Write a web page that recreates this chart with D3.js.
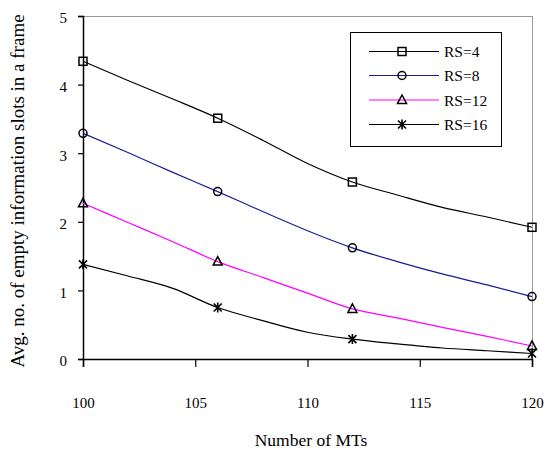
<!DOCTYPE html>
<html>
<head>
<meta charset="utf-8">
<script src="https://cdn.jsdelivr.net/npm/d3@7/dist/d3.min.js"></script>
<style>
  html, body { margin: 0; padding: 0; background: #fff; }
  svg { display: block; font-family: "Liberation Serif", "Times New Roman", serif; }
</style>
</head>
<body>
<svg id="chart" width="546" height="450"></svg>
<script>
// ---- data ----
const xValues = [100, 102, 104, 106, 108, 110, 112, 114, 116, 118, 120];
const markerX = [100, 106, 112, 120];
const rs4  = [4.34, 4.06, 3.79, 3.51, 3.19, 2.85, 2.58, 2.39, 2.21, 2.07, 1.92];
const rs8  = [3.29, 3.01, 2.72, 2.44, 2.15, 1.87, 1.62, 1.42, 1.24, 1.08, 0.91];
const rs12 = [2.27, 1.99, 1.71, 1.42, 1.19, 0.96, 0.73, 0.60, 0.46, 0.33, 0.19];
const rs16 = [1.38, 1.21, 1.03, 0.75, 0.56, 0.39, 0.29, 0.22, 0.16, 0.12, 0.08];
const seriesNames = ["RS=4", "RS=8", "RS=12", "RS=16"];
const xTicks = [100, 105, 110, 115, 120];
const yTicks = [0, 1, 2, 3, 4, 5];
const xTitle = "Number of MTs";
const yTitle = "Avg. no. of empty information slots in a frame";

const seriesValues = [rs4, rs8, rs12, rs16];
const colors = ["#000000", "#1c1c96", "#ff00ff", "#000000"];
const markers = ["square", "circle", "triangle", "asterisk"];

// ---- layout ----
const svg = d3.select("#chart");
const mLeft = 83, mRight = 532, mTop = 16, mBottom = 359;
const serif = "Liberation Serif, Times New Roman, serif";

const x = d3.scaleLinear().domain([100, 120]).range([mLeft, mRight]);
const y = d3.scaleLinear().domain([0, 5]).range([mBottom, mTop]);

// frame: top and right grey
svg.append("line").attr("x1", mLeft).attr("x2", mRight).attr("y1", mTop + 0.5).attr("y2", mTop + 0.5)
  .attr("stroke", "#9a9a9a").attr("stroke-width", 1);
svg.append("line").attr("x1", mRight + 0.5).attr("x2", mRight + 0.5).attr("y1", mTop).attr("y2", mBottom)
  .attr("stroke", "#9a9a9a").attr("stroke-width", 1);

// y axis
const yAxis = svg.append("g").attr("transform", `translate(${mLeft},0)`)
  .call(d3.axisLeft(y).tickValues(yTicks).tickSize(5).tickPadding(11).tickFormat(d3.format("d")));
yAxis.select(".domain").attr("stroke", "#000").attr("stroke-width", 1.5);
yAxis.selectAll(".tick line").attr("stroke", "#000").attr("stroke-width", 1.2);
yAxis.selectAll("text").attr("font-size", 15).attr("fill", "#000").attr("y", 2)
  .attr("font-family", serif);

// x axis
const xAxis = svg.append("g").attr("transform", `translate(0,${mBottom})`)
  .call(d3.axisBottom(x).tickValues(xTicks).tickSize(8).tickPadding(30).tickFormat(d3.format("d")));
xAxis.select(".domain").attr("stroke", "#000").attr("stroke-width", 1.5);
xAxis.selectAll(".tick line").attr("stroke", "#000").attr("stroke-width", 1.2);
xAxis.selectAll("text").attr("font-size", 15).attr("fill", "#000")
  .attr("font-family", serif);

// titles
svg.append("text").attr("x", 311).attr("y", 446).attr("text-anchor", "middle")
  .attr("font-size", 17.5).attr("font-family", serif).text(xTitle);
svg.append("text").attr("transform", `translate(24,191) rotate(-90)`).attr("text-anchor", "middle")
  .attr("font-size", 19).attr("font-family", serif).text(yTitle);

// marker drawer
function drawMarker(g, type, cx, cy) {
  const s = 4;
  if (type === "square") {
    g.append("rect").attr("x", cx - s).attr("y", cy - s).attr("width", 2 * s).attr("height", 2 * s)
      .attr("fill", "none").attr("stroke", "#000").attr("stroke-width", 1.5);
  } else if (type === "circle") {
    g.append("circle").attr("cx", cx).attr("cy", cy).attr("r", 4)
      .attr("fill", "none").attr("stroke", "#000").attr("stroke-width", 1.5);
  } else if (type === "triangle") {
    g.append("path").attr("d", `M${cx},${cy - 5}L${cx + 4.5},${cy + 3.5}L${cx - 4.5},${cy + 3.5}Z`)
      .attr("fill", "none").attr("stroke", "#000").attr("stroke-width", 1.5);
  } else if (type === "asterisk") {
    g.append("path").attr("d",
      `M${cx - 4},${cy - 4}L${cx + 4},${cy + 4}M${cx + 4},${cy - 4}L${cx - 4},${cy + 4}M${cx},${cy - 5}L${cx},${cy + 5}`)
      .attr("fill", "none").attr("stroke", "#000").attr("stroke-width", 1.6);
  }
}

// lines
const line = d3.line().x(d => x(d[0])).y(d => y(d[1])).curve(d3.curveMonotoneX);
seriesValues.forEach((vals, i) => {
  const pts = xValues.map((xv, j) => [xv, vals[j]]);
  svg.append("path").attr("d", line(pts)).attr("fill", "none")
    .attr("stroke", colors[i]).attr("stroke-width", 1.2);
});
seriesValues.forEach((vals, i) => {
  const g = svg.append("g");
  markerX.forEach(mx => {
    const j = xValues.indexOf(mx);
    drawMarker(g, markers[i], x(mx), y(vals[j]));
  });
});

// legend
const lg = svg.append("g");
lg.append("rect").attr("x", 350.5).attr("y", 32.5).attr("width", 151).attr("height", 114)
  .attr("fill", "#fff").attr("stroke", "#000").attr("stroke-width", 1);
const rowY = [51.5, 75.5, 100, 124.5];
seriesNames.forEach((name, i) => {
  lg.append("line").attr("x1", 369).attr("x2", 439).attr("y1", rowY[i]).attr("y2", rowY[i])
    .attr("stroke", colors[i]).attr("stroke-width", 1.2);
  drawMarker(lg, markers[i], 402, rowY[i]);
  lg.append("text").attr("x", 444).attr("y", rowY[i] + 5.5).attr("font-size", 15.5)
    .attr("font-family", serif).text(name);
});
</script>
</body>
</html>
